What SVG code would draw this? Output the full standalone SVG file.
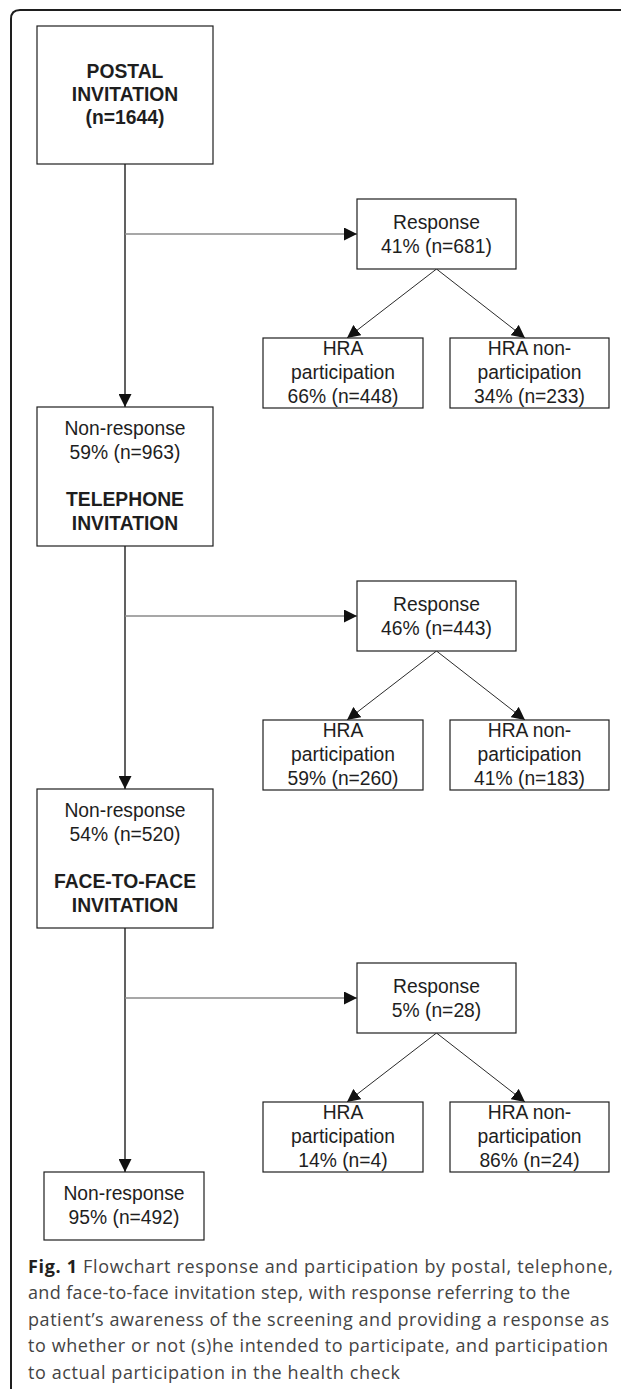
<svg xmlns="http://www.w3.org/2000/svg" width="621" height="1389" viewBox="0 0 621 1389">
<style>
.bg{fill:#ffffff}
.frame{fill:none;stroke:#1e1e1e;stroke-width:2}
.box{fill:#ffffff;stroke:#1e1e1e;stroke-width:1.2}
.t{font-family:"Liberation Sans",Arial,Helvetica,sans-serif;font-size:19.3px;fill:#1e1e1e;text-anchor:middle}
.b{font-weight:bold}
.v{stroke:#1e1e1e;stroke-width:1.4;fill:none}
.h{stroke:#8a8a8a;stroke-width:1.6;fill:none}
.d{stroke:#2a2a2a;stroke-width:1;fill:none}
.cap{font-family:"Open Sans","Noto Sans",sans-serif;font-size:18px;fill:#444444}
.capb{font-weight:bold;fill:#231f20}
</style>
<defs>
<marker id="ah" viewBox="0 0 13 13" markerWidth="13" markerHeight="13" refX="13" refY="6.5" orient="auto" markerUnits="userSpaceOnUse">
<path d="M0,0 L13,6.5 L0,13 z" fill="#111111"/>
</marker>
</defs>
<rect class="bg" x="0" y="0" width="621" height="1389"/>
<path class="frame" d="M11,1389 L11,19 Q11,10 20,10 L621,10"/>

<g id="connectors">
<line class="v" x1="125" y1="164" x2="125" y2="407" marker-end="url(#ah)"/>
<line class="h" x1="125" y1="234" x2="357" y2="234" marker-end="url(#ah)"/>
<line class="d" x1="436.5" y1="269" x2="347" y2="338" marker-end="url(#ah)"/>
<line class="d" x1="436.5" y1="269" x2="525" y2="338" marker-end="url(#ah)"/>

<line class="v" x1="125" y1="546" x2="125" y2="789" marker-end="url(#ah)"/>
<line class="h" x1="125" y1="616" x2="357" y2="616" marker-end="url(#ah)"/>
<line class="d" x1="436.5" y1="651" x2="347" y2="720" marker-end="url(#ah)"/>
<line class="d" x1="436.5" y1="651" x2="525" y2="720" marker-end="url(#ah)"/>

<line class="v" x1="125" y1="928" x2="125" y2="1172" marker-end="url(#ah)"/>
<line class="h" x1="125" y1="998" x2="357" y2="998" marker-end="url(#ah)"/>
<line class="d" x1="436.5" y1="1033" x2="347" y2="1102" marker-end="url(#ah)"/>
<line class="d" x1="436.5" y1="1033" x2="525" y2="1102" marker-end="url(#ah)"/>
</g>

<g id="postal">
<rect class="box" x="37" y="26" width="176" height="138"/>
<text class="t b" x="125" y="78">POSTAL</text>
<text class="t b" x="125" y="101">INVITATION</text>
<text class="t b" x="125" y="124">(n=1644)</text>
</g>

<g id="response1">
<rect class="box" x="357" y="199" width="159" height="70"/>
<text class="t" x="436.5" y="228.5">Response</text>
<text class="t" x="436.5" y="253">41% (n=681)</text>
</g>
<g id="hra1">
<rect class="box" x="263" y="338" width="160" height="70"/>
<text class="t" x="343" y="355">HRA</text>
<text class="t" x="343" y="379">participation</text>
<text class="t" x="343" y="402.5">66% (n=448)</text>
</g>
<g id="hranon1">
<rect class="box" x="450" y="338" width="159" height="70"/>
<text class="t" x="529.5" y="355">HRA non-</text>
<text class="t" x="529.5" y="379">participation</text>
<text class="t" x="529.5" y="402.5">34% (n=233)</text>
</g>

<g id="telephone">
<rect class="box" x="37" y="407" width="176" height="139"/>
<text class="t" x="125" y="435">Non-response</text>
<text class="t" x="125" y="458.5">59% (n=963)</text>
<text class="t b" x="125" y="506">TELEPHONE</text>
<text class="t b" x="125" y="529.5">INVITATION</text>
</g>

<g id="response2">
<rect class="box" x="357" y="581" width="159" height="70"/>
<text class="t" x="436.5" y="610.5">Response</text>
<text class="t" x="436.5" y="635">46% (n=443)</text>
</g>
<g id="hra2">
<rect class="box" x="263" y="720" width="160" height="70"/>
<text class="t" x="343" y="737">HRA</text>
<text class="t" x="343" y="761">participation</text>
<text class="t" x="343" y="784.5">59% (n=260)</text>
</g>
<g id="hranon2">
<rect class="box" x="450" y="720" width="159" height="70"/>
<text class="t" x="529.5" y="737">HRA non-</text>
<text class="t" x="529.5" y="761">participation</text>
<text class="t" x="529.5" y="784.5">41% (n=183)</text>
</g>

<g id="facetoface">
<rect class="box" x="37" y="789" width="176" height="139"/>
<text class="t" x="125" y="817">Non-response</text>
<text class="t" x="125" y="840.5">54% (n=520)</text>
<text class="t b" x="125" y="888">FACE-TO-FACE</text>
<text class="t b" x="125" y="911.5">INVITATION</text>
</g>

<g id="response3">
<rect class="box" x="357" y="963" width="159" height="70"/>
<text class="t" x="436.5" y="992.5">Response</text>
<text class="t" x="436.5" y="1017">5% (n=28)</text>
</g>
<g id="hra3">
<rect class="box" x="263" y="1102" width="160" height="70"/>
<text class="t" x="343" y="1119">HRA</text>
<text class="t" x="343" y="1143">participation</text>
<text class="t" x="343" y="1166.5">14% (n=4)</text>
</g>
<g id="hranon3">
<rect class="box" x="450" y="1102" width="159" height="70"/>
<text class="t" x="529.5" y="1119">HRA non-</text>
<text class="t" x="529.5" y="1143">participation</text>
<text class="t" x="529.5" y="1166.5">86% (n=24)</text>
</g>

<g id="nonresponse-final">
<rect class="box" x="44" y="1172" width="160" height="68"/>
<text class="t" x="124" y="1200">Non-response</text>
<text class="t" x="124" y="1224">95% (n=492)</text>
</g>

<g id="caption">
<text class="cap" x="28" y="1272.5" textLength="585"><tspan class="capb">Fig. 1</tspan> Flowchart response and participation by postal, telephone,</text>
<text class="cap" x="28" y="1299" textLength="542">and face-to-face invitation step, with response referring to the</text>
<text class="cap" x="28" y="1325.5" textLength="581">patient’s awareness of the screening and providing a response as</text>
<text class="cap" x="28" y="1352" textLength="580">to whether or not (s)he intended to participate, and participation</text>
<text class="cap" x="28" y="1378.5" textLength="372">to actual participation in the health check</text>
</g>
</svg>
